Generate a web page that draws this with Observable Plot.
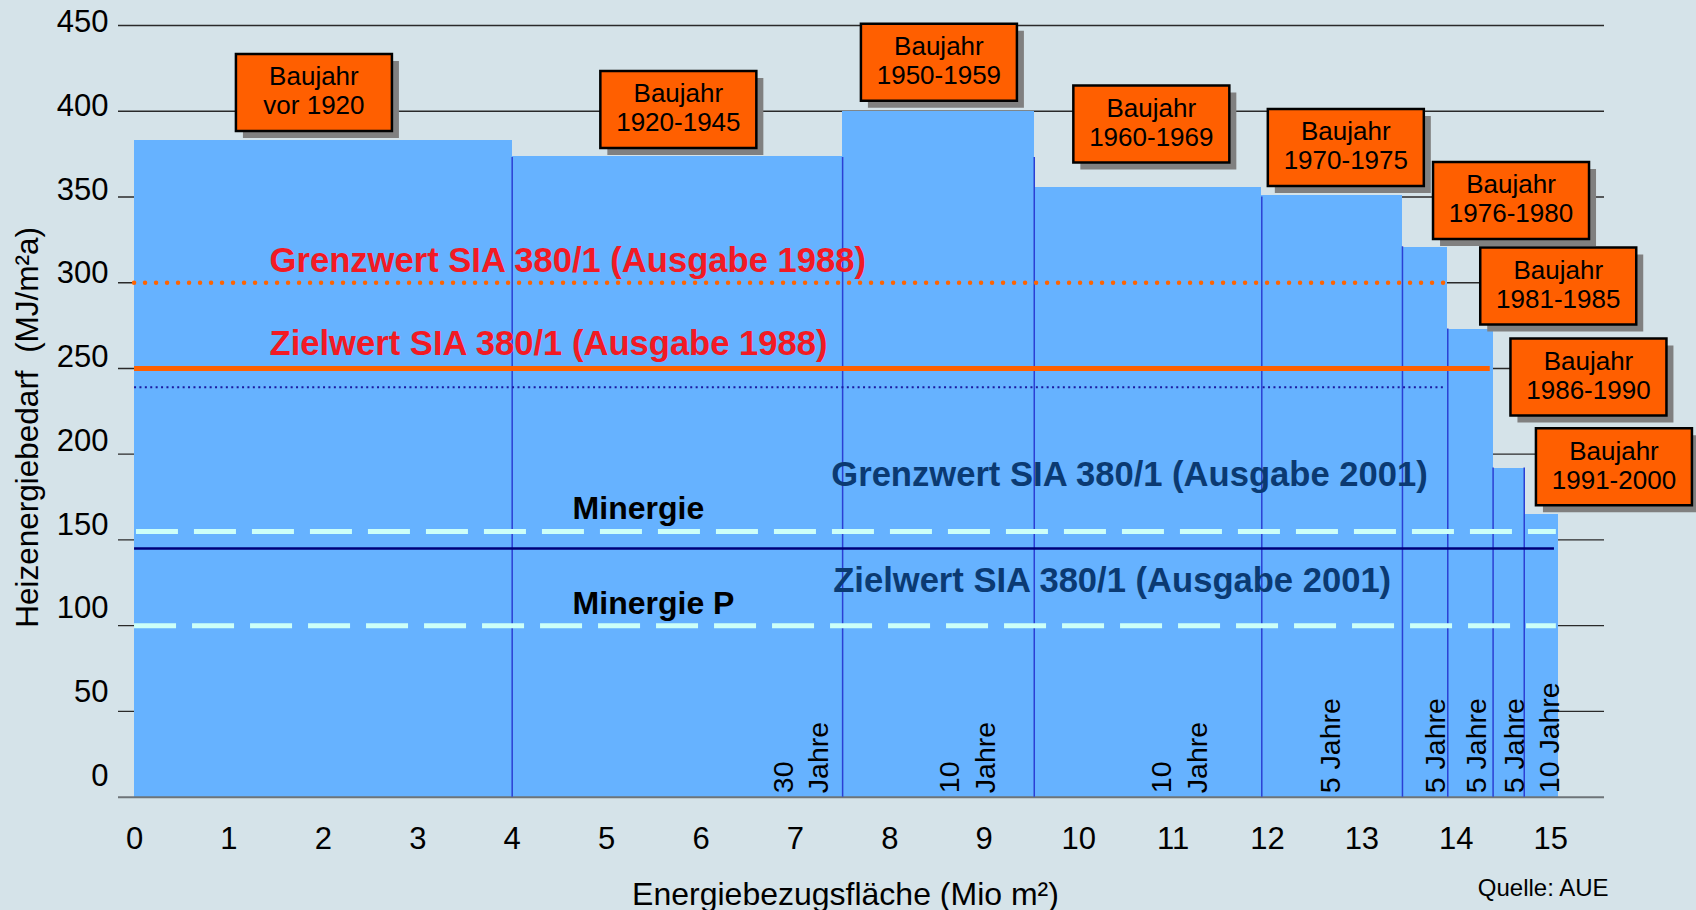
<!DOCTYPE html>
<html><head><meta charset="utf-8">
<script src="https://cdn.jsdelivr.net/npm/d3@7"></script>
<script src="https://cdn.jsdelivr.net/npm/@observablehq/plot@0.6"></script>
<style>
html,body{margin:0;padding:0;background:#d5e3e9;}
#chart svg{display:block;}
</style></head><body><div id="chart"></div>
<script>
// Segments by construction period
const baujahr = ["vor 1920","1920-1945","1950-1959","1960-1969","1970-1975","1976-1980","1981-1985","1986-1990","1991-2000"];
const flaecheStart = [0, 4, 7.5, 9.53, 11.94, 13.43, 13.91, 14.39, 14.72];
const flaecheEnd   = [4, 7.5, 9.53, 11.94, 13.43, 13.91, 14.39, 14.72, 15.08];
const heizenergie  = [383, 373.5, 400, 355.5, 351, 320.5, 273, 191.5, 165];
// period duration labels (rotated)
const periode  = ["30\nJahre", "10\nJahre", "10\nJahre", "5 Jahre", "5 Jahre", "5 Jahre", "5 Jahre", "10 Jahre"];
const periodeX = [7.04, 8.80, 11.05, 12.65, 13.76, 14.19, 14.60, 14.97];
// separator lines between segments
const trennX   = [4, 7.5, 9.53, 11.94, 13.43, 13.91, 14.39, 14.72];
const trennTop = [373, 373, 373, 350, 321, 273, 192, 192];
// label boxes (anchor positions in data units)
const boxX = [1.90, 5.76, 8.52, 10.77, 12.83, 14.58, 15.08, 15.40, 15.67];
const boxY = [411, 401, 428.6, 392.5, 378.8, 347.9, 298.1, 245.1, 192.7];
// reference values
const refNames  = ["Grenzwert 1988", "Zielwert 1988", "Zielwert 1988 dotted", "Minergie", "Grenzwert/Zielwert 2001", "Minergie P"];
const refValues = [300, 250, 239, 155, 145, 100];
const refEnd    = [13.91, 14.36, 13.89, 15.06, 15.04, 15.06];
// annotation texts
const annoText = ["Grenzwert SIA 380/1 (Ausgabe 1988)", "Zielwert SIA 380/1 (Ausgabe 1988)",
                  "Grenzwert SIA 380/1 (Ausgabe 2001)", "Zielwert SIA 380/1 (Ausgabe 2001)",
                  "Minergie", "Minergie P"];
const annoX = [1.43, 1.43, 7.38, 7.40, 4.64, 4.64];
const annoY = [312.6, 264.6, 187.7, 125.9, 168.1, 112.7];
// axes
const xTicks = [0,1,2,3,4,5,6,7,8,9,10,11,12,13,14,15];
const yTicks = [0,50,100,150,200,250,300,350,400,450];
const yLabel = "Heizenergiebedarf\u00a0 (MJ/m²a)";
const xLabel = "Energiebezugsfläche (Mio m²)";
const quelle = "Quelle: AUE";

const idx = baujahr.map((d,i)=>i);
const boxSymbol = {draw(ctx){ ctx.rect(-78, -38.5, 156, 77); }};
const ref = i => [i];

const chart = Plot.plot({
  width: 1696, height: 910,
  marginLeft: 118, marginRight: 92, marginTop: 25, marginBottom: 113.3,
  x: {domain: [-0.17, 15.57], axis: null},
  y: {domain: [0, 450], axis: null},
  style: {background: "#d5e3e9", fontFamily: "'Liberation Sans', Arial, sans-serif", color: "black", overflow: "visible"},
  marks: [
    // gridlines
    Plot.ruleY(yTicks.filter(d => d > 0), {stroke: "#2a2a2a", strokeWidth: 1.3}),
    // bars
    Plot.rect(idx, {x1: i => flaecheStart[i], x2: i => flaecheEnd[i], y1: 0, y2: i => heizenergie[i], fill: "#66b2ff", shapeRendering: "crispEdges"}),
    Plot.ruleY([0], {stroke: "#6e7478", strokeWidth: 2}),
    // separators
    Plot.ruleX(trennX, {y1: 0, y2: (d,i) => trennTop[i], stroke: "#2b3fd4", strokeWidth: 1.5}),
    // reference lines
    Plot.ruleY(ref(0), {y: i => refValues[i], x1: 0, x2: i => refEnd[i], stroke: "#ff6400", strokeWidth: 4.5, strokeDasharray: "0,11", strokeLinecap: "round"}),
    Plot.ruleY(ref(2), {y: i => refValues[i], x1: 0, x2: i => refEnd[i], stroke: "#1a1aa0", strokeWidth: 2, strokeDasharray: "2,3.4"}),
    Plot.ruleY(ref(1), {y: i => refValues[i], x1: 0, x2: i => refEnd[i], stroke: "#ff6000", strokeWidth: 5}),
    Plot.ruleY(ref(3), {y: i => refValues[i], x1: 0.02, x2: i => refEnd[i], stroke: "#ccfff8", strokeWidth: 5, strokeDasharray: "42,16"}),
    Plot.ruleY(ref(4), {y: i => refValues[i], x1: 0, x2: i => refEnd[i], stroke: "#00007a", strokeWidth: 2.5}),
    Plot.ruleY(ref(5), {y: i => refValues[i], x1: 0, x2: i => refEnd[i], stroke: "#ccfff8", strokeWidth: 5, strokeDasharray: "42,16"}),
    // annotation texts
    Plot.text([0,1], {x: i => annoX[i], y: i => annoY[i], text: i => annoText[i], textAnchor: "start", fill: "#f21a24", fontSize: 34.6, fontWeight: "bold"}),
    Plot.text([2,3], {x: i => annoX[i], y: i => annoY[i], text: i => annoText[i], textAnchor: "start", fill: "#0b3a72", fontSize: 34.6, fontWeight: "bold"}),
    Plot.text([4,5], {x: i => annoX[i], y: i => annoY[i], text: i => annoText[i], textAnchor: "start", fill: "black", fontSize: 32, fontWeight: "bold"}),
    // period labels
    Plot.text(periode, {x: (d,i) => periodeX[i], y: 0, text: d => d, rotate: -90, textAnchor: "start", lineAnchor: "middle", fontSize: 28.5, lineHeight: 1.25, dy: -4, fill: "black"}),
    // label boxes
    Plot.dot(idx, {x: i => boxX[i], y: i => boxY[i], symbol: boxSymbol, fill: "#808080", stroke: "none", dx: 7, dy: 7}),
    Plot.dot(idx, {x: i => boxX[i], y: i => boxY[i], symbol: boxSymbol, fill: "#ff5f00", stroke: "black", strokeWidth: 2.5}),
    Plot.text(idx, {x: i => boxX[i], y: i => boxY[i], text: i => "Baujahr\n" + baujahr[i], fontSize: 26, lineHeight: 1.12, dy: -2, fill: "black"}),
    // y tick labels
    Plot.text(yTicks, {frameAnchor: "left", y: d => 12.4 + d * 0.9767, text: d => String(d), textAnchor: "end", dx: -10, fontSize: 31, fill: "black"}),
    // x tick labels
    Plot.text(xTicks, {x: d => d, frameAnchor: "bottom", lineAnchor: "top", text: d => String(d), dy: 30, fontSize: 31, fill: "black"}),
    // axis titles
    Plot.text([yLabel], {frameAnchor: "left", textAnchor: "middle", rotate: -90, dx: -91, dy: 16, fontSize: 31.5, fill: "black"}),
    Plot.text([xLabel], {frameAnchor: "bottom", textAnchor: "middle", dx: -16, dy: 108, fontSize: 32, fill: "black"}),
    Plot.text([quelle], {frameAnchor: "bottom-right", textAnchor: "end", dx: 4, dy: 99, fontSize: 24, fill: "black"})
  ]
});
document.getElementById("chart").appendChild(chart);
</script></body></html>
